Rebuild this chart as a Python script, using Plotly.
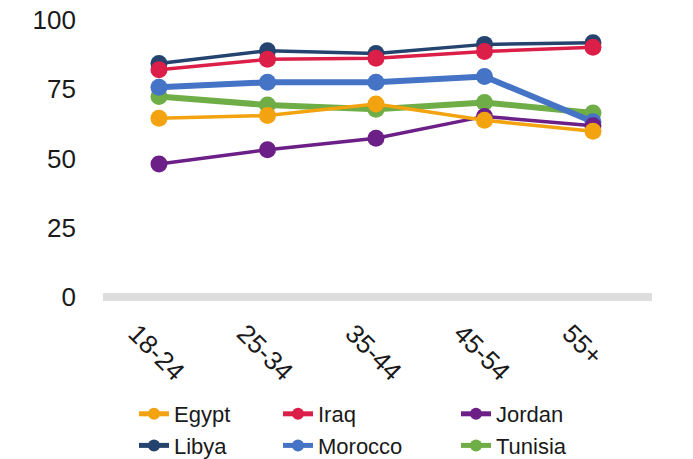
import plotly.graph_objects as go

# Age groups on the x axis
age_groups = ["18-24", "25-34", "35-44", "45-54", "55+"]

# Share (%) per country and age group
egypt = [64.5, 65.5, 69.7, 63.8, 59.8]
iraq = [82.0, 85.8, 86.2, 88.6, 90.2]
jordan = [48.0, 53.2, 57.3, 65.2, 61.8]
libya = [84.3, 88.9, 87.9, 91.2, 91.8]
morocco = [75.7, 77.5, 77.5, 79.6, 63.3]
tunisia = [72.4, 69.3, 67.8, 70.2, 66.4]

y_ticks = [0, 25, 50, 75, 100]

# name, values, colour, line width, legend (column)
series = [
    ("Egypt", egypt, "#F2A30F", 3.5, "legend"),
    ("Iraq", iraq, "#DC1F48", 3.5, "legend2"),
    ("Jordan", jordan, "#6B1F87", 3.5, "legend3"),
    ("Libya", libya, "#24436F", 3.5, "legend"),
    ("Morocco", morocco, "#4573C5", 6, "legend2"),
    ("Tunisia", tunisia, "#6FAD46", 6, "legend3"),
]

fig = go.Figure()
# Add in reverse so Egypt sits on top; legends are reversed back.
for name, vals, color, lw, leg in reversed(series):
    fig.add_trace(go.Scatter(
        x=age_groups, y=vals, name=name, mode="lines+markers",
        line=dict(color=color, width=lw),
        marker=dict(color=color, size=17),
        cliponaxis=False, legend=leg,
    ))

tick_font = dict(family="Liberation Sans, Arial, sans-serif", size=26, color="#1a1a1a")
leg_font = dict(family="Liberation Sans, Arial, sans-serif", size=22, color="#1a1a1a")

W, H = 693, 459
ml, mr, mt, mb = 103, 41, 20, 162

def cy(y):
    return 1 - y / H

def cx(x):
    return x / W

leg_common = dict(orientation="v", traceorder="reversed", itemsizing="constant",
                  font=leg_font, xref="container", yref="container",
                  xanchor="left", yanchor="top",
                  bgcolor="rgba(0,0,0,0)", itemwidth=30, tracegroupgap=0)

fig.update_layout(
    width=W, height=H,
    margin=dict(l=ml, r=mr, t=mt, b=mb, autoexpand=False),
    paper_bgcolor="white", plot_bgcolor="white",
    font=tick_font,
    showlegend=True,
    legend=dict(**leg_common, x=cx(134), y=cy(393)),
    legend2=dict(**leg_common, x=cx(278), y=cy(393)),
    legend3=dict(**leg_common, x=cx(456), y=cy(393)),
    xaxis=dict(
        type="category", range=[-0.516, 4.544],
        showgrid=False, showline=False, zeroline=False,
        tickangle=45, ticks="", ticklabelstandoff=15, ticklabelshift=-23,
        tickfont=tick_font,
    ),
    yaxis=dict(
        range=[0, 100], tickvals=y_ticks,
        showgrid=False, showline=False,
        zeroline=True, zerolinecolor="#dddddd", zerolinewidth=8,
        ticks="", ticklabelstandoff=26, tickfont=tick_font,
    ),
)

fig.write_html("out.html")
